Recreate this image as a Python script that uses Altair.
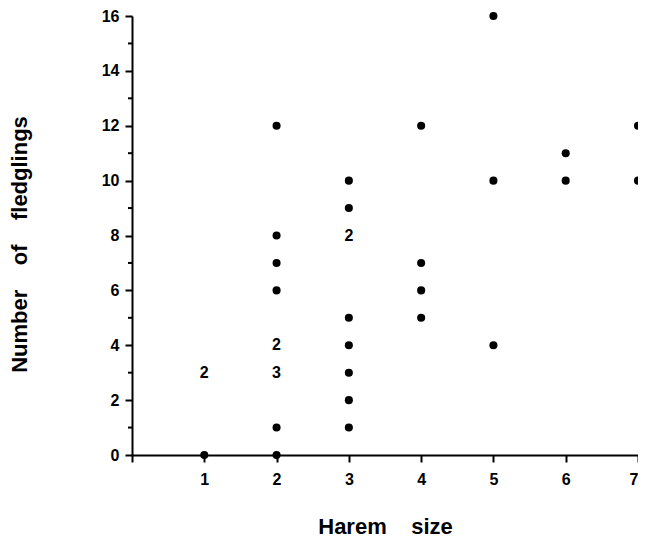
import altair as alt
import pandas as pd

# Single (non-overlapping) observations: harem size, number of fledglings
pt_x = [1, 2, 2, 2, 2, 2, 2, 3, 3, 3, 3, 3, 3, 3, 4, 4, 4, 4, 5, 5, 5, 6, 6, 7, 7]
pt_y = [0, 12, 8, 7, 6, 1, 0, 10, 9, 5, 4, 3, 2, 1, 12, 7, 6, 5, 16, 10, 4, 11, 10, 12, 10]

# Overlapping observations shown as counts
lab_x = [1, 2, 2, 3]
lab_y = [3, 4, 3, 8]
lab_text = ["2", "2", "3", "2"]

x_ticks = [0, 1, 2, 3, 4, 5, 6, 7]
y_ticks = [0, 2, 4, 6, 8, 10, 12, 14, 16]
y_minor = [1, 3, 5, 7, 9, 11, 13, 15]

FONT = "Liberation Sans"
NB = "\u00a0"

pts = pd.DataFrame({"x": pt_x, "y": pt_y})
labs = pd.DataFrame({"x": lab_x, "y": lab_y, "t": lab_text})
minor = pd.DataFrame({"y": y_minor})

xscale = alt.Scale(domain=[0, 7], nice=False, zero=False)
yscale = alt.Scale(domain=[0, 16], nice=False, zero=False)

xaxis = alt.Axis(
    values=x_ticks,
    format="d",
    labelExpr="datum.value == 0 ? '' : datum.label",
    title="Harem" + NB * 4 + "size",
    titleFont=FONT, titleFontSize=22, titleFontWeight="bold", titleColor="black",
    titleY=78, titleBaseline="alphabetic",
    labelFont=FONT, labelFontSize=16, labelFontWeight="bold", labelColor="black",
    labelPadding=9,
    tickSize=7, tickWidth=2, tickColor="black",
    domainWidth=2, domainColor="black", grid=False,
)
yaxis = alt.Axis(
    values=y_ticks,
    format="d",
    title="Number" + NB * 4 + "of" + NB * 4 + "fledglings",
    titleFont=FONT, titleFontSize=22, titleFontWeight="bold", titleColor="black",
    titleX=-106, titleY=228, titleAngle=-90, titleAlign="center", titleBaseline="alphabetic",
    labelFont=FONT, labelFontSize=16, labelFontWeight="bold", labelColor="black",
    labelPadding=6,
    tickSize=7, tickWidth=2, tickColor="black",
    domainWidth=2, domainColor="black", grid=False,
)

points = alt.Chart(pts).mark_circle(size=65, color="black", opacity=1).encode(
    x=alt.X("x:Q", scale=xscale, axis=xaxis),
    y=alt.Y("y:Q", scale=yscale, axis=yaxis),
)

texts = alt.Chart(labs).mark_text(
    font=FONT, fontSize=16, fontWeight="bold", color="black", baseline="middle", align="center"
).encode(
    x=alt.X("x:Q", scale=xscale),
    y=alt.Y("y:Q", scale=yscale),
    text="t:N",
)

minor_ticks = alt.Chart(minor).mark_rule(color="black", strokeWidth=2).encode(
    y=alt.Y("y:Q", scale=yscale),
    x=alt.value(-4),
    x2=alt.value(0),
)

chart = (
    alt.layer(minor_ticks, points, texts)
    .properties(
        width=506,
        height=439,
        autosize=alt.AutoSizeParams(type="none"),
        padding={"left": 124, "top": 8, "right": 0, "bottom": 85},
        background="white",
    )
    .configure_view(stroke=None)
)

chart.save("out.html", embed_options={"renderer": "svg", "actions": False})
